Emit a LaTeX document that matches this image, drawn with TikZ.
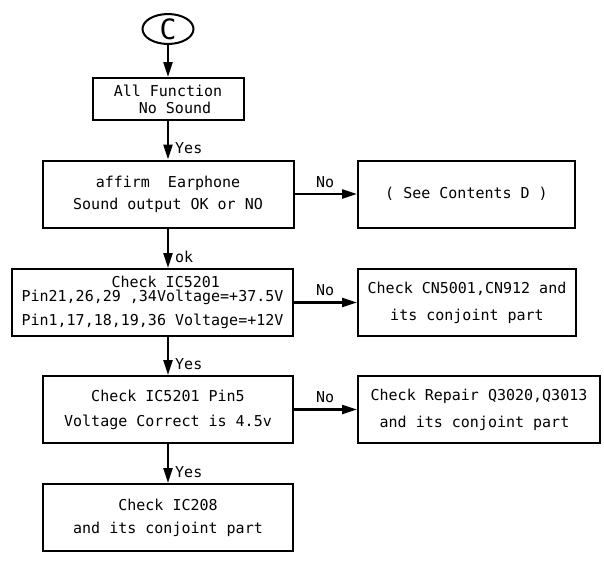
\documentclass[tikz,border=0pt]{standalone}
\usepackage{fontspec}
\setmainfont{DejaVu Sans Mono}
\usetikzlibrary{arrows.meta,shapes.geometric}

\begin{document}
\begin{tikzpicture}[x=1pt,y=-1pt,>={Triangle[length=15pt,width=9pt]},
    box/.style={draw, line width=2pt, minimum width=#1, minimum height=67pt,
                inner sep=0pt, align=center, font=\fontsize{15}{17}\selectfont},
    arr/.style={->, line width=2.2pt},
    lbl/.style={anchor=west, inner sep=0pt, font=\fontsize{15}{17}\selectfont}]
    \useasboundingbox (0,0) rectangle (604,563);

    % Start connector
    \node[draw, ellipse, line width=2pt, minimum width=51pt, minimum height=28pt,
          inner sep=0pt, font=\fontsize{28}{28}\selectfont] (c) at (168,29) {C};

    % Main column
    \node[box=151pt, minimum height=42pt] (nosound) at (168,99) {All Function\\\hspace*{14pt}No Sound};
    \node[box=251pt] (earph) at (168,194) {affirm\ \ Earphone\\[5pt]Sound output OK or NO};
    \node[box=281pt, align=left] (ic5201) at (152.5,302.5)
        {\hspace*{90pt}Check IC5201\\[-2.5pt]Pin21,26,29 ,34Voltage=+37.5V\\[7pt]Pin1,17,18,19,36 Voltage=+12V};
    \node[box=250pt] (pin5) at (168,409.5) {Check IC5201 Pin5\\[8pt]Voltage Correct is 4.5v};
    \node[box=250pt] (ic208) at (168,517.5) {Check IC208\\[6pt]and its conjoint part};

    % Side column
    \node[box=217pt] (contd) at (466.5,194) {( See Contents D )};
    \node[box=218pt] (cn) at (467,302.5) {Check CN5001,CN912 and\\[10pt]its conjoint part};
    \node[box=242pt, align=left] (q30) at (479,409.5)
        {Check Repair Q3020,Q3013\\[10pt]\ and its conjoint part};

    % Vertical flow
    \draw[arr] (c.south) -- (nosound.north);
    \draw[arr] (nosound.south) -- (earph.north);
    \draw[arr] (earph.south) -- (earph.south |- ic5201.north);
    \draw[arr] (pin5.north |- ic5201.south) -- (pin5.north);
    \draw[arr] (pin5.south) -- (ic208.north);

    % Side branches
    \draw[arr] (earph.east) -- (contd.west);
    \draw[arr] (ic5201.east) -- (cn.west);
    \draw[arr] (pin5.east) -- (q30.west);

    % Labels
    \node[lbl] (yes1) at (175,148) {Yes};
    \node[lbl] (ok) at (175,257) {ok};
    \node[lbl] (yes2) at (175,364) {Yes};
    \node[lbl] (yes3) at (175,472) {Yes};
    \node[lbl] (no1) at (316,182) {No};
    \node[lbl] (no2) at (316,290) {No};
    \node[lbl] (no3) at (316,397) {No};
\end{tikzpicture}
\end{document}
